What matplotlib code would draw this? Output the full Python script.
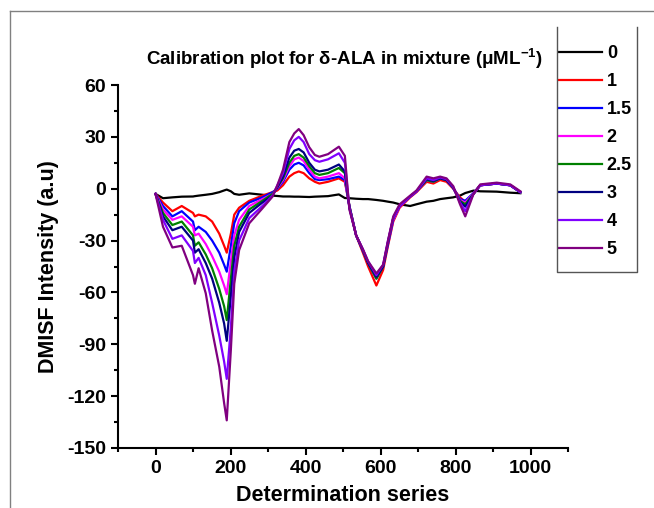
import matplotlib
matplotlib.use("Agg")
import matplotlib.pyplot as plt
from matplotlib.ticker import MultipleLocator
from matplotlib.lines import Line2D

plt.rcParams['font.family'] = ['Liberation Sans', 'DejaVu Sans']
plt.rcParams['font.weight'] = 'bold'
plt.rcParams['axes.unicode_minus'] = False
plt.rcParams['mathtext.fontset'] = 'custom'
plt.rcParams['mathtext.rm'] = 'Liberation Sans:bold'
plt.rcParams['mathtext.bf'] = 'Liberation Sans:bold'

# ---------------- data ----------------
x = [0, 20, 45, 70, 100, 105, 115, 134, 151, 170, 183, 190, 201, 210, 223, 250,
     285, 312, 325, 340, 357, 370, 382, 395, 410, 425, 437, 460, 489, 505, 517,
     535, 553, 567, 589, 607, 620, 634, 651, 679, 696, 723, 741, 759, 776, 794,
     812, 826, 848, 866, 910, 946, 973]

c0 = [-3, -5.5, -5, -4.6, -4.5, -4.3, -4, -3.5, -3, -2, -1, -0.5, -1.5, -3, -3.5, -2.7,
      -3.5, -4, -4.2, -4.5, -4.5, -4.6, -4.6, -4.7, -4.8, -4.6, -4.5, -4.3, -3.3, -5.4, -5.5,
      -5.8, -6, -6, -6.5, -7, -7.5, -8, -9, -10, -9, -7.5, -7, -6, -5.5, -5,
      -4, -2.5, -1.1, -1.5, -1.7, -2.3, -2.6]
c1 = [-3, -8, -13, -10, -14, -16, -15, -16, -19, -26, -33, -37, -26, -15, -11, -7,
      -4, -2, -1, 2, 7, 9, 10, 9, 6, 4, 3, 4, 6, 4, -10,
      -27, -37, -45, -56, -47, -33, -19, -11, -5, -2, 4, 3, 5, 4, 0,
      -5, -7.5, -3, 2, 3, 2, -2]
c15 = [-3, -10, -16, -13, -19, -24, -22, -25, -30, -37, -44, -48, -33, -20, -13, -8,
       -5, -2, 0, 4, 11, 14, 15, 13.5, 9, 5.5, 5, 5.5, 7, 5, -10,
       -27, -36, -43, -52, -45, -32, -18, -10, -4.5, -1.5, 5, 4, 6, 5, 0.5,
       -6, -7, -2.5, 2, 3, 2, -2]
c2 = [-3, -12, -18, -16, -22, -27, -26, -32, -39, -48, -56, -61, -42, -27, -18, -10,
      -6, -3, 0.5, 5, 13, 17, 18, 16, 11, 7, 6, 7, 9, 6, -10,
      -27, -35.5, -43, -51, -45, -31.6, -18, -10.4, -4.6, -1.7, 5, 4, 6, 5, 0.2,
      -6.5, -8, -2.7, 2, 3, 2, -2]
c25 = [-3, -14, -21, -19, -27, -33, -31, -38, -46, -58, -68, -76, -52, -33, -22, -12,
       -7, -3, 1, 6, 15, 19, 20, 18, 13, 9, 8, 9, 12, 9, -10,
       -27, -35.5, -43, -52, -45, -31, -17, -10, -4.5, -1.5, 5, 4, 6, 5, 0.5,
       -7, -9, -3, 2, 3, 2, -2]
c3 = [-3, -16, -24, -22, -30, -37, -35, -43, -52, -66, -78, -88, -62, -40, -25, -14,
      -8, -4, 1, 7, 18, 22, 23, 21, 15, 11, 10, 11, 14, 10, -11,
      -27, -35.5, -43, -51, -45, -31, -17, -10, -4.5, -1.5, 5.5, 4.5, 6, 5, 0.5,
      -7.5, -10.4, -3, 2, 3, 2, -2]
c4 = [-3, -18, -29, -27, -36, -43, -40, -50, -66, -85, -100, -110, -80, -48, -30, -17,
      -10, -4, 2, 9, 23, 28, 30, 27, 20, 16.5, 15.6, 17, 20.5, 15, -11,
      -27, -35, -42, -50, -44, -30, -17, -10, -4.5, -1.5, 6, 5, 6.5, 5.5, 1,
      -8, -13, -3, 2, 3, 2, -2]
c5 = [-3, -22, -34, -33, -50, -55, -46, -60.5, -82, -103, -124, -134, -93, -55, -35.5, -20,
      -11.4, -4.6, 2, 11, 27, 32, 34.5, 31, 24, 19.5, 18.5, 20, 24.3, 19, -12,
      -27, -35, -42, -49, -44, -30, -16, -9, -4, -1, 7, 6, 7, 6, 1.5,
      -9, -16, -3, 2.5, 3.5, 2.5, -1.5]

labels = ['0', '1', '1.5', '2', '2.5', '3', '4', '5']
series = [c0, c1, c15, c2, c25, c3, c4, c5]
colors = ['black', '#ff0000', '#0000ff', '#ff00ff', '#008000', '#000080', '#8000ff', '#800080']

fig = plt.figure(figsize=(6.54, 5.08), dpi=100)
ax = fig.add_axes([118 / 654, 60 / 508, 450 / 654, 363 / 508])

handles = []
for y, c, lab in zip(series, colors, labels):
    h, = ax.plot(x, y, color=c, lw=1.6, label=lab)
    handles.append(h)

ax.set_xlim(-100, 1100)
ax.set_ylim(-150, 60)
ax.xaxis.set_major_locator(MultipleLocator(200))
ax.xaxis.set_minor_locator(MultipleLocator(100))
ax.yaxis.set_major_locator(MultipleLocator(30))
ax.yaxis.set_minor_locator(MultipleLocator(15))
ax.spines['top'].set_visible(False)
ax.spines['right'].set_visible(False)
for s in ['left', 'bottom']:
    ax.spines[s].set_linewidth(1.5)
ax.tick_params(which='major', direction='out', length=5, width=1.5, labelsize=14)
ax.tick_params(which='minor', direction='out', length=3, width=1.5)
for t in ax.get_xticklabels() + ax.get_yticklabels():
    t.set_fontweight('bold')

ax.set_xlabel('Determination series', fontsize=15.5, fontweight='bold', labelpad=6)
ax.set_ylabel('DMISF Intensity (a.u)', fontsize=15.5, fontweight='bold', labelpad=6)
fig.text(0.527, 0.884, r'Calibration plot for δ-ALA in mixture (μML$^{\mathbf{-1}}$)',
         ha='center', va='center', fontsize=13.5, fontweight='bold')

leg = ax.legend(handles=handles, loc='upper left', bbox_to_anchor=(559 / 654, 1 - 45 / 508),
                bbox_transform=fig.transFigure, frameon=False, prop={'weight': 'bold', 'size': 13},
                handlelength=2.4, handletextpad=0.25, labelspacing=0.61, borderpad=0,
                borderaxespad=0)
for ln in leg.get_lines():
    ln.set_linewidth(1.6)

# legend box (no top edge) and outer screenshot border
W, H = 654, 508
def fline(xs, ys, **kw):
    fig.add_artist(Line2D([v / W for v in xs], [1 - v / H for v in ys],
                          transform=fig.transFigure, **kw))
fline([557, 557, 637, 637], [27, 272, 272, 27], color='#555555', lw=1.0)
fline([9.5, 9.5], [508, 11], color='#808080', lw=1.0)
fline([9.5, 654], [11, 11], color='#808080', lw=1.0)

fig.savefig('out.png', dpi=100)
